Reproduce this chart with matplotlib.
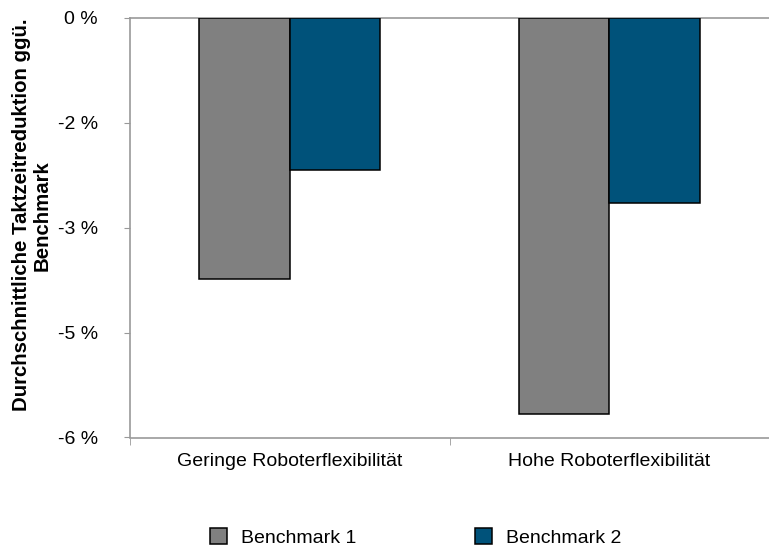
import numpy as np
import matplotlib.pyplot as plt

plt.rcParams['font.family'] = ['Liberation Sans', 'DejaVu Sans']

categories = ['Geringe Roboterflexibilität', 'Hohe Roboterflexibilität']
benchmark_1 = [-3.73, -5.67]
benchmark_2 = [-2.17, -2.64]
series_names = ['Benchmark 1', 'Benchmark 2']
y_ticks = [0, -1.5, -3, -4.5, -6]
y_tick_labels = ['0 %', '-2 %', '-3 %', '-5 %', '-6 %']

fig = plt.figure(figsize=(7.69, 5.47), dpi=100)
ax = fig.add_axes([130 / 769, 1 - 437.5 / 547, 639 / 769, 419.5 / 547])

x = np.arange(len(categories))
w = 0.283
ax.bar(x - w / 2, benchmark_1, w, color='#808080', edgecolor='black',
       linewidth=1.1, label=series_names[0], zorder=3)
ax.bar(x + w / 2, benchmark_2, w, color='#00527A', edgecolor='black',
       linewidth=1.1, label=series_names[1], zorder=3)

ax.set_ylim(-6, 0)
ax.set_xlim(-0.5, 1.5 - 9 / 324)
ax.set_yticks(y_ticks)
ax.set_yticklabels(y_tick_labels)

# category labels in the middle, tick marks at the boundaries
ax.set_xticks(x)
ax.set_xticklabels(categories)
ax.set_xticks([-0.5, 0.5, 1.5], minor=True)
ax.tick_params(axis='x', which='major', length=0, pad=11, labelsize=14)
ax.tick_params(axis='x', which='minor', length=5, color='#999999')
ax.tick_params(axis='y', length=4, color='#999999', pad=19, labelsize=14)

for side in ['left', 'bottom', 'top']:
    ax.spines[side].set_color('#999999')
    ax.spines[side].set_linewidth(1.2)
ax.spines['right'].set_visible(False)

ax.set_ylabel('Durchschnittliche Taktzeitreduktion ggü.\nBenchmark',
              fontsize=14.7, fontweight='bold', linespacing=1.1)
ax.yaxis.set_label_coords(-78 / 639, 0.53)

fig.legend(loc='center', bbox_to_anchor=(0.541, 0.017), ncol=2, frameon=False,
           fontsize=14, handlelength=0.85, handleheight=0.85,
           handletextpad=0.75, columnspacing=6.1)

fig.savefig('out.png', dpi=100)
